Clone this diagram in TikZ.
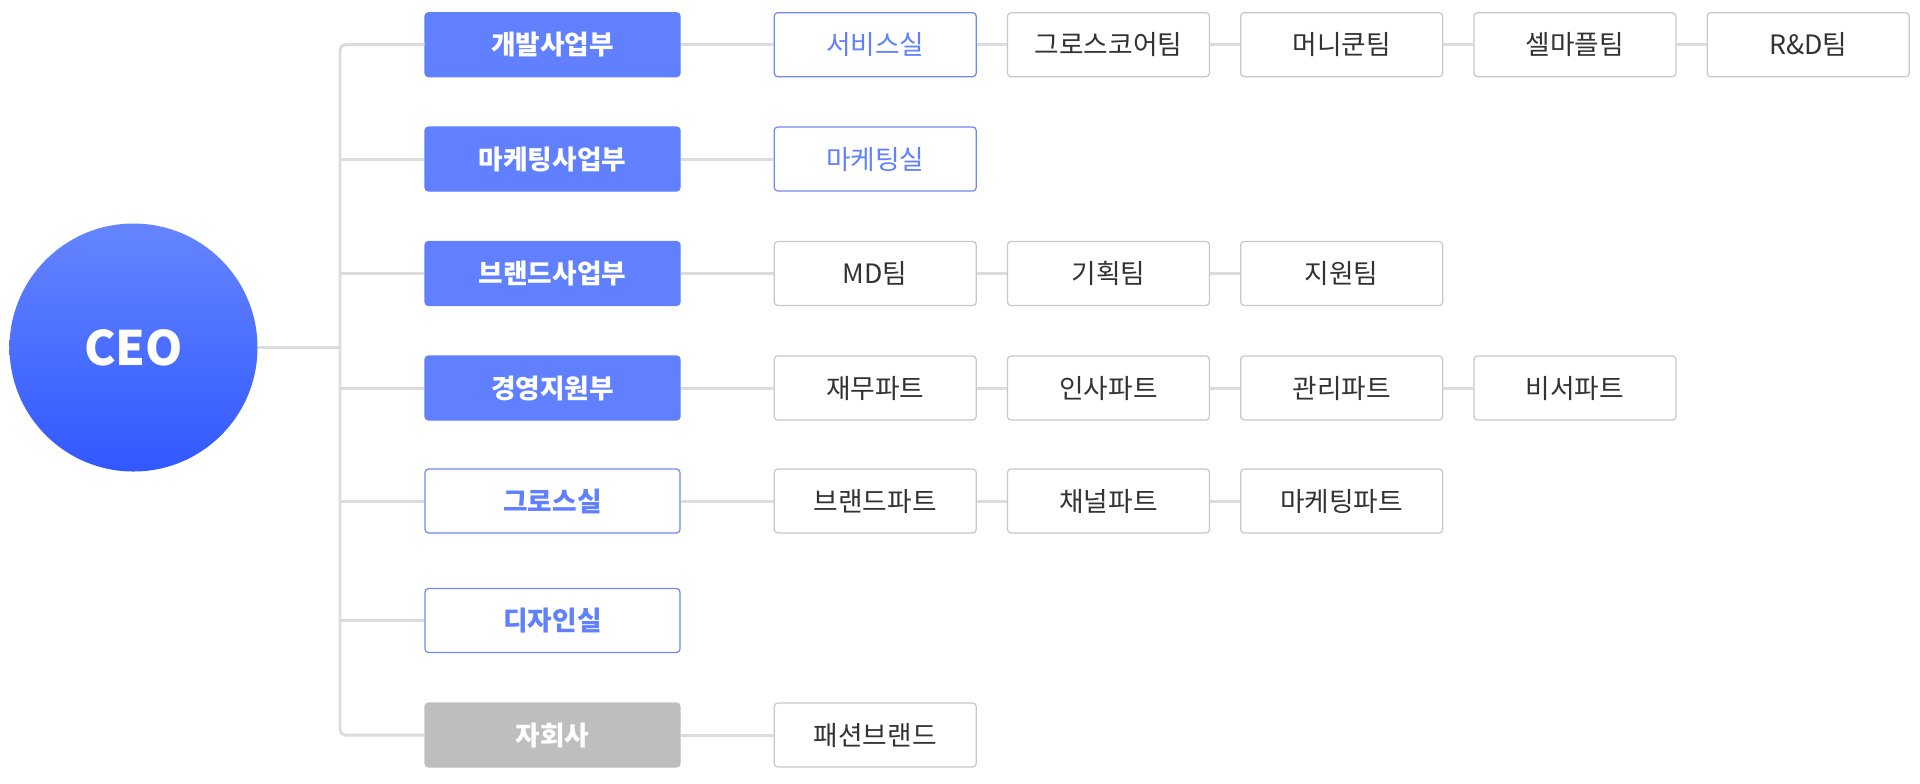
\documentclass[tikz,border=0pt]{standalone}
\usepackage{fontspec}
\setmainfont{Noto Sans CJK KR}
\usetikzlibrary{positioning}
\definecolor{deptblue}{HTML}{6080FF}
\definecolor{lineblue}{HTML}{7088F0}
\definecolor{ceotop}{HTML}{6585FF}
\definecolor{ceobottom}{HTML}{3158FF}
\definecolor{subgray}{HTML}{BEBEBE}
\definecolor{boxgray}{HTML}{C8C8C8}
\definecolor{linegray}{HTML}{DCDCDC}
\definecolor{textgray}{HTML}{333333}
\tikzstyle{dept}=[rectangle,
                  rounded corners=2pt,
                  line width=0.7pt,
                  minimum width=5.1cm,
                  minimum height=1.28cm,
                  font=\bfseries\fontsize{15.2}{17}\selectfont,
                  text=white,
                  fill=deptblue,
                  draw=deptblue]
\tikzstyle{office}=[dept, fill=white, draw=lineblue, text=deptblue]
\tikzstyle{subsid}=[dept, fill=subgray, draw=subgray]
\tikzstyle{team}=[rectangle,
                  rounded corners=2pt,
                  line width=0.7pt,
                  minimum width=4.04cm,
                  minimum height=1.28cm,
                  font=\fontsize{15.2}{17}\selectfont,
                  text=textgray,
                  fill=white,
                  draw=boxgray]
\tikzstyle{blueteam}=[team, draw=lineblue, text=deptblue]
\tikzstyle{conn}=[draw=linegray, line width=1.7pt]
\begin{document}
\begin{tikzpicture}
    \useasboundingbox (0,0) rectangle (38.4,-15.66);
    \node[circle, minimum size=4.96cm, top color=ceotop, bottom color=ceobottom, text=white, font=\bfseries\fontsize{27}{30}\selectfont] (ceo) at (2.67,-6.95) {CEO};
    \coordinate (jt) at (6.8,-6.95);

    % divisions
    \node[dept] (dev) at (11.05,-0.894) {개발사업부};
    \node[dept] (mkt) at (11.05,-3.18) {마케팅사업부};
    \node[dept] (brand) at (11.05,-5.47) {브랜드사업부};
    \node[dept] (mgmt) at (11.05,-7.76) {경영지원부};
    \node[office] (growth) at (11.05,-10.02) {그로스실};
    \node[office] (design) at (11.05,-12.41) {디자인실};
    \node[subsid] (sub) at (11.05,-14.7) {자회사};

    % teams
    \node[blueteam, right=1.86cm of dev] (svc) {서비스실};
    \node[team, right=0.6cm of svc] (gcore) {그로스코어팀};
    \node[team, right=0.6cm of gcore] (money) {머니쿤팀};
    \node[team, right=0.6cm of money] (selma) {셀마플팀};
    \node[team, right=0.6cm of selma] (rnd) {R\&D팀};
    \node[blueteam, right=1.86cm of mkt] (mktroom) {마케팅실};
    \node[team, right=1.86cm of brand] (md) {MD팀};
    \node[team, right=0.6cm of md] (plan) {기획팀};
    \node[team, right=0.6cm of plan] (support) {지원팀};
    \node[team, right=1.86cm of mgmt] (fin) {재무파트};
    \node[team, right=0.6cm of fin] (hr) {인사파트};
    \node[team, right=0.6cm of hr] (admin) {관리파트};
    \node[team, right=0.6cm of admin] (sec) {비서파트};
    \node[team, right=1.86cm of growth] (bpart) {브랜드파트};
    \node[team, right=0.6cm of bpart] (chan) {채널파트};
    \node[team, right=0.6cm of chan] (mpart) {마케팅파트};
    \node[team, right=1.86cm of sub] (fashion) {패션브랜드};

    % tree lines
    \draw[conn] (ceo) -- (jt);
    \draw[conn, rounded corners=3pt] (dev.west) -| (jt) |- (sub.west);
    \draw[conn] (jt |- mkt.west) -- (mkt.west);
    \draw[conn] (jt |- brand.west) -- (brand.west);
    \draw[conn] (jt |- mgmt.west) -- (mgmt.west);
    \draw[conn] (jt |- growth.west) -- (growth.west);
    \draw[conn] (jt |- design.west) -- (design.west);
    \path (dev) edge[conn] (svc)
          (svc) edge[conn] (gcore)
          (gcore) edge[conn] (money)
          (money) edge[conn] (selma)
          (selma) edge[conn] (rnd)
          (mkt) edge[conn] (mktroom)
          (brand) edge[conn] (md)
          (md) edge[conn] (plan)
          (plan) edge[conn] (support)
          (mgmt) edge[conn] (fin)
          (fin) edge[conn] (hr)
          (hr) edge[conn] (admin)
          (admin) edge[conn] (sec)
          (growth) edge[conn] (bpart)
          (bpart) edge[conn] (chan)
          (chan) edge[conn] (mpart)
          (sub) edge[conn] (fashion);
\end{tikzpicture}
\end{document}
